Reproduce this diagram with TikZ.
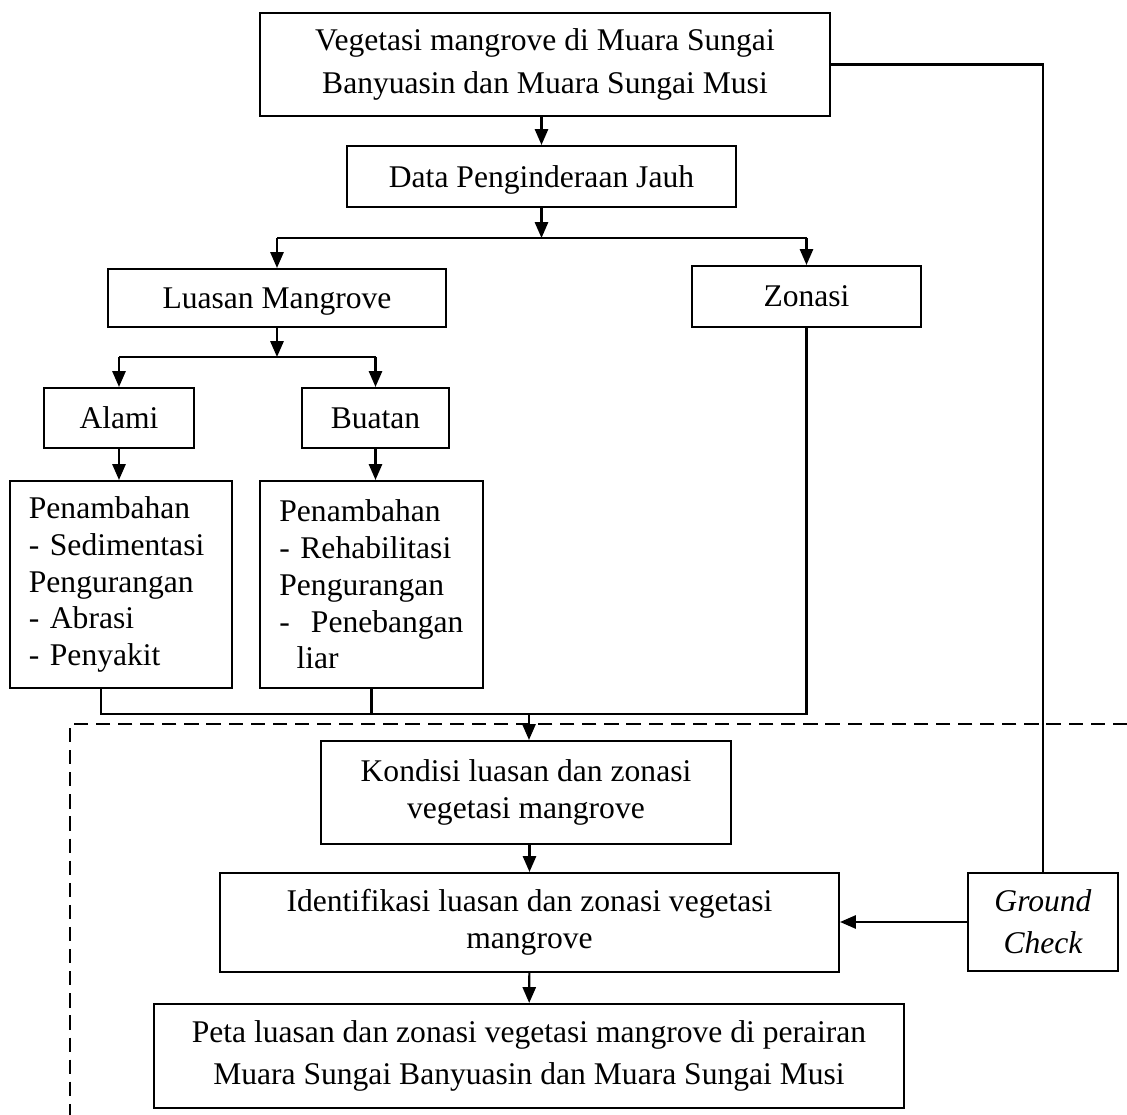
\documentclass[tikz,border=0pt]{standalone}
\usepackage{fontspec}
\setmainfont{Liberation Serif}
\usepackage{tikz}
\usetikzlibrary{arrows.meta,positioning,calc}
\newcommand{\pxu}{0.38pt}
\tikzset{
  box/.style={rectangle, draw, line width=0.8pt, align=center, inner sep=0pt, font=\fontsize{12}{14}\selectfont},
  onebox/.style={rectangle, draw, line width=0.8pt, inner sep=0pt, font=\fontsize{12}{14}\selectfont, text depth=0pt},
  tallbox/.style={box, font=\fontsize{12}{16}\selectfont},
  listbox/.style={box, align=left, text width=70pt, inner xsep=7.2pt},
  arrow/.style={-{Triangle[length=6pt, width=5pt]}, line width=0.8pt},
  line/.style={line width=0.8pt},
  boundary/.style={line width=0.8pt, dash pattern=on 5.4pt off 3pt},
}

\begin{document}
\begin{tikzpicture}[x=\pxu, y=-\pxu]
  \useasboundingbox (0,0) rectangle (1127,1115);

  % Source and data
  \node[tallbox, minimum width=570*\pxu, minimum height=103*\pxu] (veg) at (545,64.5) {
    Vegetasi mangrove di Muara Sungai\\
    Banyuasin dan Muara Sungai Musi
  };
  \node[onebox, minimum width=389*\pxu, minimum height=61*\pxu] (data) at (541.5,176.5) {Data Penginderaan Jauh};

  % Level 2
  \node[onebox, minimum width=338*\pxu, minimum height=58*\pxu] (luas) at (277,298) {Luasan Mangrove};
  \node[onebox, minimum width=229*\pxu, minimum height=61*\pxu] (zon) at (806.5,296.5) {Zonasi};

  % Level 3
  \node[onebox, minimum width=150*\pxu, minimum height=60*\pxu] (alami) at (119,418) {Alami};
  \node[onebox, minimum width=147*\pxu, minimum height=60*\pxu] (buat) at (375.5,418) {Buatan};

  % Level 4
  \node[listbox, minimum width=222*\pxu, minimum height=207*\pxu] (penA) at (121,584.5) {
    Penambahan\\
    - Sedimentasi\\
    Pengurangan\\
    - Abrasi\\
    - Penyakit
  };
  \node[listbox, minimum width=223*\pxu, minimum height=207*\pxu] (penB) at (371.5,584.5) {
    Penambahan\\
    - Rehabilitasi\\
    Pengurangan\\
    -~~Penebangan\\
    \hspace{6.5pt}liar
  };

  % Results
  \node[box, minimum width=410*\pxu, minimum height=103*\pxu] (kond) at (526,792.5) {
    Kondisi luasan dan zonasi\\
    vegetasi mangrove
  };
  \node[box, minimum width=619*\pxu, minimum height=99*\pxu] (iden) at (529.5,922.5) {
    Identifikasi luasan dan zonasi vegetasi\\
    mangrove
  };
  \node[tallbox, minimum width=750*\pxu, minimum height=104*\pxu] (peta) at (529,1056) {
    Peta luasan dan zonasi vegetasi mangrove di perairan\\
    Muara Sungai Banyuasin dan Muara Sungai Musi
  };
  \node[tallbox, font=\fontsize{12}{16}\selectfont\itshape, minimum width=150*\pxu, minimum height=98*\pxu] (gc) at (1043,922) {
    Ground\\
    Check
  };

  % Junctions
  \coordinate (j1) at (541.5,238);
  \coordinate (j2) at (277,357);
  \coordinate (j3) at (529,714);

  % Arrows
  \draw[arrow] (data.north |- veg.south) -- (data.north);
  \draw[arrow] (data) -- (j1);
  \draw[line] (j1 -| luas) -- (j1 -| zon);
  \draw[arrow] (j1 -| luas) -- (luas);
  \draw[arrow] (j1 -| zon) -- (zon);

  \draw[arrow] (luas) -- (j2);
  \draw[line] (j2 -| alami) -- (j2 -| buat);
  \draw[arrow] (j2 -| alami) -- (alami);
  \draw[arrow] (j2 -| buat) -- (buat);
  \draw[arrow] (alami) -- (alami |- penA.north);
  \draw[arrow] (buat) -- (buat |- penB.north);

  % Merge
  \draw[line] ($(penA.south west)!0.41!(penA.south east)$) |- (zon.south |- j3) -- (zon.south);
  \draw[line] (penB.south) -- (penB.south |- j3);
  \draw[arrow] (j3) -- (j3 |- kond.north);

  \draw[arrow] (iden.north |- kond.south) -- (iden.north);
  \draw[arrow] (iden) -- (peta);
  \draw[arrow] (gc) -- (gc -| iden.east);
  \draw[line] (veg.east) -| (gc);

  % Boundary
  \draw[boundary] (1127,724) -- (70,724) -- (70,1115);

\end{tikzpicture}
\end{document}
